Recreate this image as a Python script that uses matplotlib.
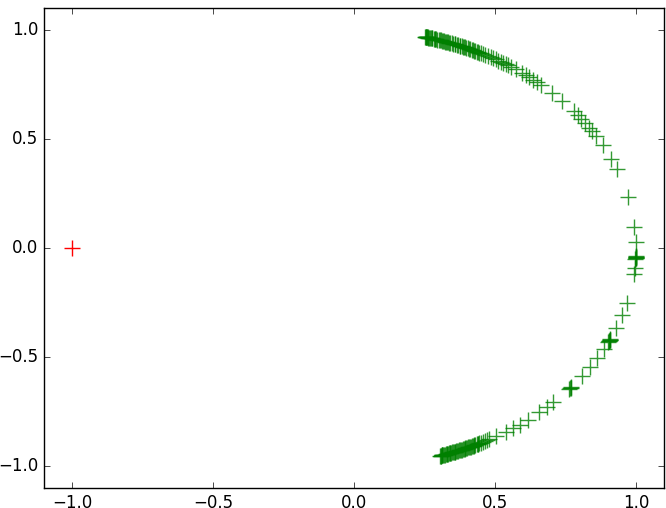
import numpy as np
import matplotlib

matplotlib.use("Agg")
import matplotlib.pyplot as plt

plt.style.use("classic")

# angles (degrees) of the green points on the unit circle
TOP_ANGLES = [75.4, 75.3, 75.2, 75.1, 75.0, 74.9, 74.8, 74.7, 74.5, 74.4, 74.2,
              74.0, 73.9, 73.6, 73.4, 73.2, 73.0, 72.8, 72.5, 72.3, 72.1, 71.9,
              71.6, 71.4, 71.1, 70.9, 70.7, 70.5, 70.2, 70.0, 69.7, 69.4, 69.1,
              68.9, 68.6, 68.3, 68.0, 67.8, 67.5, 67.3, 67.0, 66.8, 66.5, 66.2,
              65.9, 65.6, 65.3, 65.1, 64.8, 64.5, 64.2, 63.9, 63.6, 63.3, 62.8,
              62.2, 61.6, 61.0, 60.4, 59.8, 59.2, 58.6, 58.0, 57.4, 56.8, 56.2,
              54.9, 53.5, 52.3, 51.5, 50.5, 49.5, 48.3, 45.4, 42.3, 38.8, 37.5,
              36.3, 35.0, 33.5, 32.5, 31.0, 28.1, 24.1, 21.2]
RIGHT_ANGLES = [13.4, 5.6, 1.6, -2.2, -2.3, -2.4, -2.5, -2.6, -2.8, -5.3, -6.9,
                -14.7, -17.9, -21.5, -24.6, -24.8, -24.9, -25.1, -25.2, -25.5,
                -27.6, -30.4, -33.1, -35.9, -39.6, -39.8, -40.0, -40.3]
BOTTOM_ANGLES = [-45.0, -46.8, -48.9, -52.0, -54.0, -55.7, -57.3, -59.7, -61.3,
                 -61.8, -62.3, -62.8, -63.3, -63.6, -63.8, -64.0, -64.2, -64.5,
                 -64.7, -64.9, -65.1, -65.3, -65.5, -65.7, -65.9, -66.1, -66.3,
                 -66.5, -66.7, -66.9, -67.1, -67.3, -67.5, -67.7, -67.9, -68.1,
                 -68.3, -68.5, -68.7, -68.9, -69.0, -69.2, -69.4, -69.6, -69.8,
                 -70.0, -70.1, -70.3, -70.5, -70.7, -70.8, -71.0, -71.2, -71.4,
                 -71.5, -71.7, -71.8, -71.9, -72.0, -72.1, -72.2]
RED_X = [-1.0]
RED_Y = [0.0]


def main():
    fig = plt.figure(figsize=(6.66, 5.08), dpi=100, facecolor="white")
    ax = fig.add_axes([44 / 666, 1 - 488 / 508, 620 / 666, 480 / 508])

    ang = np.radians(TOP_ANGLES + RIGHT_ANGLES + BOTTOM_ANGLES)
    ax.plot(np.cos(ang), np.sin(ang), "+", color="green", alpha=0.8,
            markersize=11, markeredgewidth=1.0)
    ax.plot(RED_X, RED_Y, "+", color="red", markersize=11, markeredgewidth=1.0)

    ax.set_xlim(-1.1, 1.1)
    ax.set_ylim(-1.1, 1.1)
    ax.set_xticks([-1.0, -0.5, 0.0, 0.5, 1.0])
    ax.set_yticks([-1.0, -0.5, 0.0, 0.5, 1.0])

    fig.savefig("out.png", dpi=100, facecolor="white")
    plt.close(fig)


if __name__ == "__main__":
    main()
